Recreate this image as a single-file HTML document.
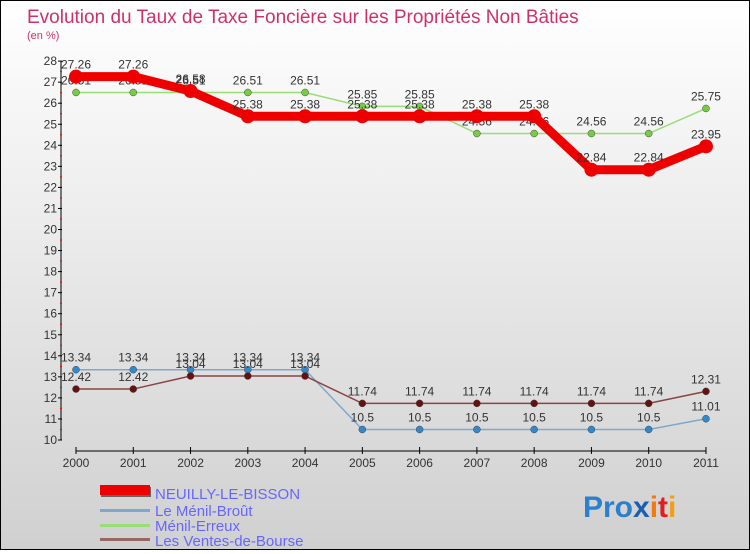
<!DOCTYPE html>
<html><head><meta charset="utf-8"><style>
body{margin:0;width:750px;height:550px;overflow:hidden;font-family:"Liberation Sans",sans-serif}
#c{position:absolute;left:0;top:0;width:748px;height:548px;border:1px solid #000;background:linear-gradient(#ffffff,#d0d0d0)}
</style></head><body>
<div id="c">
<svg id="s" width="748" height="548" xmlns="http://www.w3.org/2000/svg" font-family="Liberation Sans, sans-serif">
<text x="26" y="22" font-size="19" fill="#d0306a">Evolution du Taux de Taxe Foncière sur les Propriétés Non Bâties</text>
<text x="26" y="38" font-size="11" fill="#d0306a">(en %)</text>
<g id="axes"></g><g id="series"></g>
<g>
<rect x="100" y="486" width="50" height="10" fill="#666"/><rect x="99" y="484" width="50" height="10" fill="#e00"/>
<text x="154" y="498" font-size="15" fill="#6666ff">NEUILLY-LE-BISSON</text>
<rect x="99" y="508" width="50" height="3" fill="#80a8cc"/>
<text x="154" y="515" font-size="15" fill="#6666ff">Le Ménil-Broût</text>
<rect x="99" y="523" width="50" height="3" fill="#99dd77"/>
<text x="154" y="530" font-size="15" fill="#6666ff">Ménil-Erreux</text>
<rect x="99" y="537" width="50" height="3" fill="#996666"/>
<text x="154" y="545" font-size="15" fill="#6666ff">Les Ventes-de-Bourse</text>
</g>
<g font-size="30" font-weight="bold">
<text x="582" y="516"><tspan fill="#2a7fcf">Pro</tspan><tspan fill="#1a5fb0">x</tspan><tspan fill="#f07a10">i</tspan><tspan fill="#e02020">t</tspan><tspan fill="#f0a010">i</tspan></text>
</g>
</svg></div>
<script>
const years=["2000","2001","2002","2003","2004","2005","2006","2007","2008","2009","2010","2011"];
const neuilly=[27.26,27.26,26.58,25.38,25.38,25.38,25.38,25.38,25.38,22.84,22.84,23.95];
const menilBrout=[13.34,13.34,13.34,13.34,13.34,10.5,10.5,10.5,10.5,10.5,10.5,11.01];
const menilErreux=[26.51,26.51,26.51,26.51,26.51,25.85,25.85,24.56,24.56,24.56,24.56,25.75];
const ventes=[12.42,12.42,13.04,13.04,13.04,11.74,11.74,11.74,11.74,11.74,11.74,12.31];
const yTicks=[10,11,12,13,14,15,16,17,18,19,20,21,22,23,24,25,26,27,28];
const NS="http://www.w3.org/2000/svg";
const xs=i=>75+i*57.27;
const ys=v=>439-(v-10)*21.05;
function mk(p,t,a){const e=document.createElementNS(NS,t);for(const k in a)e.setAttribute(k,a[k]);p.appendChild(e);return e;}
const ax=document.getElementById('axes');
const yl=mk(ax,'line',{x1:60,y1:ys(28),x2:60,y2:ys(10),stroke:'#000'});


yTicks.forEach(v=>{
 mk(ax,'line',{x1:57,y1:ys(v),x2:61,y2:ys(v),stroke:'#000'});
 if(v<28)mk(ax,'line',{x1:59,y1:ys(v+0.5),x2:61,y2:ys(v+0.5),stroke:'#e00'});
 const t=mk(ax,'text',{x:56,y:ys(v)+4,'font-size':12,fill:'#333','text-anchor':'end'});t.textContent=v;
 
 
});
const xl=mk(ax,'line',{x1:xs(0),y1:450,x2:xs(11),y2:450,stroke:'#000'});


years.forEach((y,i)=>{
 mk(ax,'line',{x1:xs(i),y1:446,x2:xs(i),y2:453,stroke:'#000'});
 const t=mk(ax,'text',{x:xs(i),y:466,'font-size':12,fill:'#333','text-anchor':'middle'});t.textContent=y;
 
 
});
const sg=document.getElementById('series');
function draw(data,color,w,r,name,dot){
 const g=mk(sg,'g',{});
 
 
 mk(g,'polyline',{points:data.map((v,i)=>xs(i)+','+ys(v)).join(' '),fill:'none',stroke:color,'stroke-width':w});
 data.forEach((v,i)=>{
  const c=mk(g,'circle',{cx:xs(i),cy:ys(v),r:r,fill:dot,stroke:r>4?'none':'#444','stroke-width':0.5});
  
  
  const t=mk(g,'text',{x:xs(i),y:ys(v)-8,'font-size':12,fill:'#333','text-anchor':'middle'});t.textContent=v;
  
  
 });
}
draw(menilErreux,'#99dd77',1.5,3.5,'menil-erreux-series','#77cc44');
draw(neuilly,'#ee0000',9,7,'neuilly-series','#ee0000');
draw(menilBrout,'#80a8cc',1.5,3.5,'menil-brout-series','#3388cc');
draw(ventes,'#884444',1.5,3.5,'ventes-series','#661111');
</script>
</body></html>
